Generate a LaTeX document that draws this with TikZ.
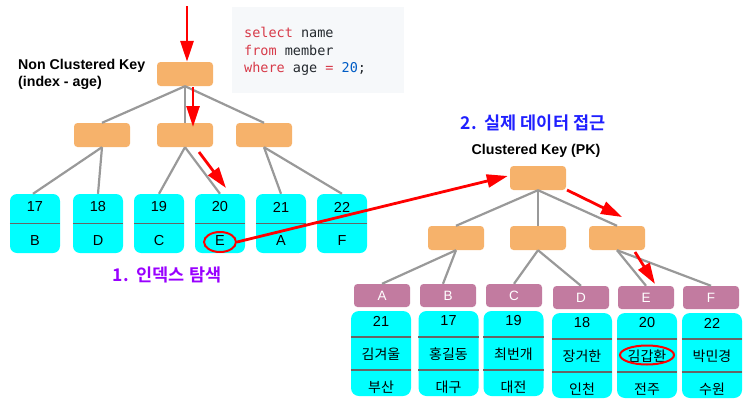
\documentclass[tikz,border=0pt]{standalone}
\usepackage{fontspec}
\setmainfont{Liberation Sans}
\setmonofont{DejaVu Sans Mono}
\newfontfamily\kr{Noto Sans CJK KR}
\newfontfamily\krb{Noto Sans CJK KR Bold}
\usetikzlibrary{arrows.meta,shapes.geometric}
\definecolor{orangebox}{HTML}{F6B26B}
\definecolor{pinkbox}{HTML}{C27BA0}
\definecolor{leafcyan}{HTML}{00FFFF}
\definecolor{edgegray}{HTML}{999999}
\definecolor{divgray}{HTML}{666666}
\definecolor{codebg}{HTML}{F6F8FA}
\definecolor{kwred}{HTML}{D73A49}
\definecolor{codetxt}{HTML}{24292E}
\definecolor{numblue}{HTML}{005CC5}
\definecolor{lblpurple}{HTML}{9900FF}
\definecolor{lblblue}{HTML}{1F1FFF}
\begin{document}
\begin{tikzpicture}[x=1pt,y=-1pt,
  inode/.style={rectangle, rounded corners=3.5pt, fill=orangebox, minimum width=56pt, minimum height=24pt, inner sep=0pt},
  leafbox/.style={rectangle, rounded corners=7pt, fill=leafcyan, minimum width=50pt, minimum height=59pt, inner sep=0pt},
  dleaf/.style={rectangle, rounded corners=8pt, fill=leafcyan, minimum width=60pt, minimum height=85pt, inner sep=0pt},
  pkbox/.style={rectangle, rounded corners=3.5pt, fill=pinkbox, minimum width=56pt, minimum height=23pt, inner sep=0pt, text=white, font=\fontsize{13.5}{13.5}\selectfont},
  txt/.style={inner sep=0pt, font=\fontsize{14.5}{14.5}\selectfont},
  krtxt/.style={inner sep=0pt, font=\kr\fontsize{14}{14}\selectfont},
  divline/.style={draw=divgray, line width=1.8pt},
  edge/.style={draw=edgegray, line width=2.2pt},
  redarrow/.style={draw=red, line width=2.8pt, -{Triangle[length=21pt,width=13pt]}},
  redring/.style={draw=red, line width=2pt, ellipse},
  ttl/.style={inner sep=0pt, font=\bfseries\fontsize{14.2}{17}\selectfont, align=left},
]
\useasboundingbox (0,0) rectangle (753,410);

% code box
\node[fill=codebg, minimum width=172pt, minimum height=86pt, inner sep=0pt] (code) at (318,50) {};
\node[anchor=west, inner sep=0pt, font=\ttfamily\fontsize{13.5}{13.5}\selectfont, text=codetxt] (c1) at (244,32) {\textcolor{kwred}{select} name};
\node[anchor=west, inner sep=0pt, font=\ttfamily\fontsize{13.5}{13.5}\selectfont, text=codetxt] (c2) at (244,50.5) {\textcolor{kwred}{from} member};
\node[anchor=west, inner sep=0pt, font=\ttfamily\fontsize{13.5}{13.5}\selectfont, text=codetxt] (c3) at (244,69) {\textcolor{kwred}{where} age \textcolor{kwred}{=} \textcolor{numblue}{20};};

% left tree
\node[ttl, anchor=west] (nck) at (18,74) {Non Clustered Key\\(index - age)};
\node[inode] (r) at (185,74) {};
\node[inode] (m1) at (102,135) {};
\node[inode] (m2) at (185,135) {};
\node[inode] (m3) at (264,135) {};
\foreach \i/\x/\n/\l in {1/35/17/B, 2/98/18/D, 3/159/19/C, 4/220/20/E, 5/281/21/A, 6/342/22/F}{
  \node[leafbox] (k\i) at (\x,223.5) {};
  \draw[divline] (k\i.west) -- (k\i.east);
  \node[txt] (kn\i) at (\x,207) {\n};
  \node[txt] (kl\i) at (\x,241) {\l};
}
\draw[edge] (r.south) -- (m1.north);
\draw[edge] (r.south) -- (m2.north);
\draw[edge] (r.south) -- (m3.north);
\draw[edge] (m1.south) -- ([xshift=-2pt]k1.north);
\draw[edge] (m1.south) -- (k2.north);
\draw[edge] (m2.south) -- (k3.north);
\draw[edge] (m2.south) -- (k4.north);
\draw[edge] (m3.south) -- (k5.north);
\draw[edge] (m3.south) -- (k6.north);

\node[inner sep=0pt, font=\krb\fontsize{17.5}{17.5}\selectfont, text=lblpurple] (lab1) at (167,275) {1.\ \ 인덱스 탐색};

% right tree
\node[inner sep=0pt, font=\krb\fontsize{17.5}{17.5}\selectfont, text=lblblue] (lab2) at (533,123) {2.\ \ 실제 데이터 접근};
\node[ttl] (ck) at (536,151) {Clustered Key (PK)};
\node[inode] (R) at (538,178) {};
\node[inode] (M1) at (456,238) {};
\node[inode] (M2) at (538,238) {};
\node[inode] (M3) at (617,238) {};
\foreach \i/\px/\cx/\dy/\l/\n/\nm/\ct in {1/382/381/0/A/21/김겨울/부산, 2/448/448.5/0/B/17/홍길동/대구, 3/514/513.5/0/C/19/최번개/대전, 4/581/582/2/D/18/장거한/인천, 5/646/647/2/E/20/김갑환/전주, 6/711/712/2/F/22/박민경/수원}{
  \node[pkbox] (P\i) at (\px,295.5+\dy) {\l};
  \node[dleaf] (D\i) at (\cx,353.5+\dy) {};
  \draw[divline] ([yshift=-16.5pt]D\i.west) -- ([yshift=-16.5pt]D\i.east);
  \draw[divline] ([yshift=16.5pt]D\i.west) -- ([yshift=16.5pt]D\i.east);
  \node[txt] (Dn\i) at (\cx,321+\dy) {\n};
  \node[krtxt] (Dm\i) at (\cx,354+\dy) {\nm};
  \node[krtxt] (Dc\i) at (\cx,387+\dy) {\ct};
}
\draw[edge] (R.south) -- (M1.north);
\draw[edge] (R.south) -- (M2.north);
\draw[edge] (R.south) -- (M3.north);
\draw[edge] (M1.south) -- (P1.north);
\draw[edge] (M1.south) -- ([xshift=-5pt]P2.north);
\draw[edge] (M2.south) -- (P3.north);
\draw[edge] (M2.south) -- (P4.north);
\draw[edge] (M3.south) -- (P5.north);
\draw[edge] (M3.south) -- (P6.north);

% red highlights
\node[redring, minimum width=32pt, minimum height=20pt, inner sep=0pt] (e1) at (220,242) {};
\node[redring, minimum width=54pt, minimum height=19pt, inner sep=0pt] (e2) at (647,355) {};

% red arrows
\coordinate (a0) at (187,6);
\draw[redarrow] (a0) -- (a0 |- r.north);
\coordinate (a1s) at (193,87);
\coordinate (a1e) at (193,127);
\draw[redarrow] (a1s) -- (a1e);
\coordinate (a2s) at (199,152);
\coordinate (a2e) at (226,188);
\draw[redarrow] (a2s) -- (a2e);
\draw[redarrow] (e1.east) -- ([xshift=-2pt,yshift=2pt]R.west);
\coordinate (a3s) at (567,190);
\coordinate (a3e) at (622,217);
\draw[redarrow] (a3s) -- (a3e);
\coordinate (a4s) at (635,252);
\coordinate (a4e) at (655,284);
\draw[redarrow] (a4s) -- (a4e);
\end{tikzpicture}
\end{document}
